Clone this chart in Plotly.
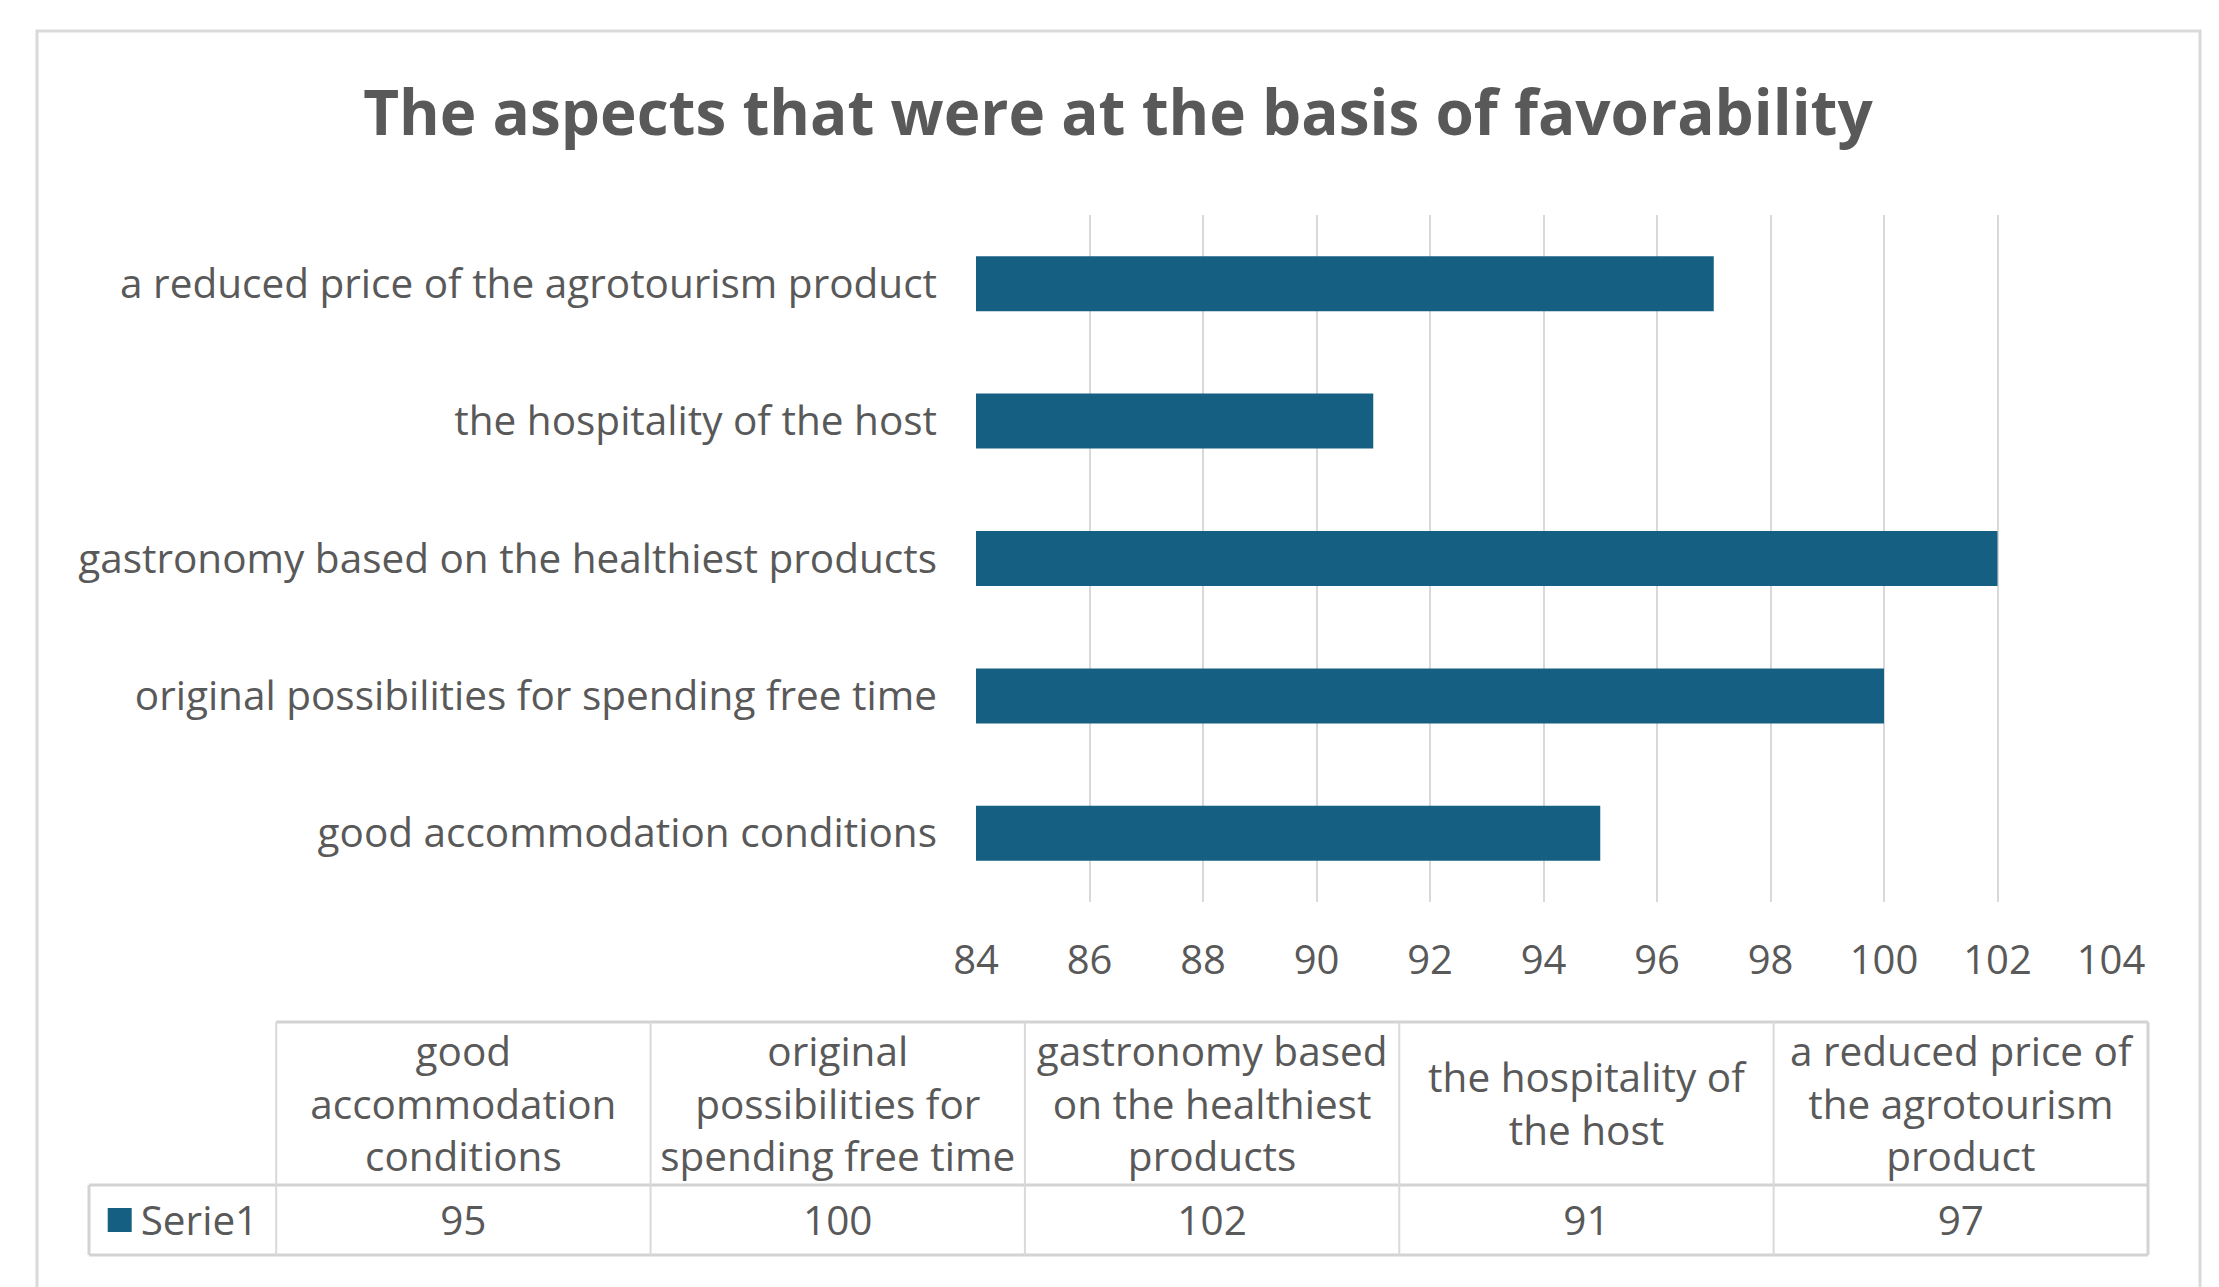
import plotly.graph_objects as go

# ---------------- data ----------------
title_text = "The aspects that were at the basis of favorability"
categories = [
    "good accommodation conditions",
    "original possibilities for spending free time",
    "gastronomy based on the healthiest products",
    "the hospitality of the host",
    "a reduced price of the agrotourism product",
]
values = [95, 100, 102, 91, 97]
header_labels = [
    "good<br>accommodation<br>conditions",
    "original<br>possibilities for<br>spending free time",
    "gastronomy based<br>on the healthiest<br>products",
    "the hospitality of<br>the host",
    "a reduced price of<br>the agrotourism<br>product",
]
series_name = "Serie1"
x_ticks = [84, 86, 88, 90, 92, 94, 96, 98, 100, 102, 104]
x_range = [84, 104]

# ---------------- style / layout ----------------
W, H = 2219, 1287
BAR = "#156082"
TXT = "#595959"
GRID = "#d9d9d9"
FONT = "Open Sans"
LBL = 40.5


def px(x):
    return x / W


def py(y):
    return 1 - y / H


fig = go.Figure()

fig.add_trace(go.Bar(
    x=values, y=categories, orientation="h", name=series_name,
    marker=dict(color=BAR, line=dict(width=0)),
    xaxis="x", yaxis="y", showlegend=False,
))

# ---- data table (own axes x2/y2) ----
n = len(categories)
cols = list(range(n))
HDR = 163 / 70.0          # header row height relative to data row
PADPX = 4
COLPX = 374.0
ROWPX = 70.0
TXT_SHIFT = 5 / ROWPX     # optical centring of text inside cells

fig.add_trace(go.Scatter(
    x=cols, y=[1 + HDR / 2 - TXT_SHIFT] * n, mode="text", text=header_labels,
    textposition="middle center",
    textfont=dict(family=FONT, size=LBL, color=TXT),
    xaxis="x2", yaxis="y2", hoverinfo="skip", showlegend=False,
))
fig.add_trace(go.Scatter(
    x=cols, y=[0.5 - TXT_SHIFT] * n, mode="text", text=[str(v) for v in values],
    textposition="middle center",
    textfont=dict(family=FONT, size=LBL, color=TXT),
    xaxis="x2", yaxis="y2", hoverinfo="skip", showlegend=False,
))
fig.add_trace(go.Scatter(
    x=[-0.918], y=[0.5], mode="markers",
    marker=dict(symbol="square", size=24, color=BAR),
    xaxis="x2", yaxis="y2", hoverinfo="skip", showlegend=False,
))
fig.add_trace(go.Scatter(
    x=[-0.862], y=[0.5 - TXT_SHIFT], mode="text", text=[series_name],
    textposition="middle right",
    textfont=dict(family=FONT, size=LBL, color=TXT),
    xaxis="x2", yaxis="y2", hoverinfo="skip", showlegend=False,
))

shapes = []
outer = dict(color="#d3d3d3", width=3)
inner = dict(color=GRID, width=2)


def seg(x0, y0, x1, y1, line):
    shapes.append(dict(type="line", xref="x2", yref="y2",
                       x0=x0, y0=y0, x1=x1, y1=y1, line=line, layer="above"))


top = 1 + HDR
seg(-0.5, top, n - 0.5, top, outer)
seg(-1, 1, n - 0.5, 1, outer)
seg(-1, 0, n - 0.5, 0, outer)
seg(-1, 0, -1, 1, outer)
seg(-0.5, 0, -0.5, top, inner)
for i in range(n):
    seg(i + 0.5, 0, i + 0.5, top, outer if i == n - 1 else inner)

# outer chart border
shapes.append(dict(type="rect", xref="paper", yref="paper",
                   x0=px(37), x1=px(2200), y0=-0.05, y1=py(31),
                   line=dict(color=GRID, width=3), layer="below"))

fig.update_layout(
    width=W, height=H,
    margin=dict(l=0, r=0, t=0, b=0, pad=0),
    paper_bgcolor="white", plot_bgcolor="white",
    font=dict(family=FONT, color=TXT),
    bargap=0.6,
    shapes=shapes,
    title=dict(text=title_text, x=px(1118), y=py(113),
               xanchor="center", yanchor="middle", xref="paper", yref="paper",
               font=dict(family=FONT, size=62, color=TXT, weight="bold")),
    xaxis=dict(domain=[px(976), px(2111)], range=x_range, tickvals=x_ticks,
               showgrid=True, gridcolor=GRID, gridwidth=2, zeroline=False,
               showline=False, ticks="", tickfont=dict(size=40, color=TXT),
               ticklabelstandoff=31, anchor="y", automargin=False, fixedrange=True),
    yaxis=dict(domain=[py(902), py(215)], type="category", showgrid=False,
               zeroline=False, showline=False, ticks="",
               tickfont=dict(size=LBL, color=TXT), ticklabelstandoff=38,
               anchor="x", automargin=False, fixedrange=True),
    xaxis2=dict(domain=[px(89 - PADPX), px(2148 + PADPX)],
                range=[-1 - PADPX / COLPX, n - 0.5 + PADPX / COLPX],
                visible=False, anchor="y2", fixedrange=True),
    yaxis2=dict(domain=[py(1255 + PADPX), py(1022 - PADPX)],
                range=[-PADPX / ROWPX, top + PADPX / ROWPX],
                visible=False, anchor="x2", fixedrange=True),
    showlegend=False,
)

fig.write_html("out.html")
